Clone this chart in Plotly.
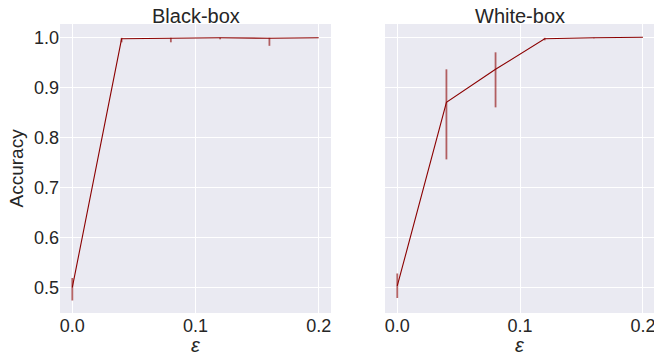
import plotly.graph_objects as go
from plotly.subplots import make_subplots

eps = [0.0, 0.04, 0.08, 0.12, 0.16, 0.2]

bb_mean = [0.500, 0.997, 0.998, 0.999, 0.998, 0.999]
bb_upper = [0.519, 0.999, 0.999, 0.999, 0.999, 0.999]
bb_lower = [0.474, 0.990, 0.990, 0.996, 0.983, 0.999]

wb_mean = [0.503, 0.870, 0.936, 0.997, 0.999, 1.000]
wb_upper = [0.528, 0.936, 0.970, 0.999, 0.999, 1.000]
wb_lower = [0.479, 0.756, 0.860, 0.994, 0.998, 1.000]

titles = ["Black-box", "White-box"]
xticks = [0.0, 0.1, 0.2]
xticklabels = ["0.0", "0.1", "0.2"]
yticks = [0.5, 0.6, 0.7, 0.8, 0.9, 1.0]
yticklabels = ["0.5", "0.6", "0.7", "0.8", "0.9", "1.0"]

FONT = "Liberation Sans, Arial, sans-serif"
TXT = "#262626"
LINE = "#8B0000"
ERR = "rgba(139,0,0,0.6)"

W, H = 654, 360
ML, MR, MT = 60, 0, 24
MB = H - 313
PW = W - ML - MR

fig = make_subplots(rows=1, cols=2, shared_yaxes=True, horizontal_spacing=0.0)

for i, (m, up, lo) in enumerate([(bb_mean, bb_upper, bb_lower), (wb_mean, wb_upper, wb_lower)]):
    col = i + 1
    fig.add_trace(go.Scatter(
        x=eps, y=m, mode="markers", marker=dict(size=0.1, opacity=0),
        error_y=dict(type="data", symmetric=False,
                     array=[u - v for u, v in zip(up, m)],
                     arrayminus=[v - l for v, l in zip(m, lo)],
                     color=ERR, thickness=1.8, width=0),
        showlegend=False, hoverinfo="skip"), row=1, col=col)
    fig.add_trace(go.Scatter(
        x=eps, y=m, mode="lines", line=dict(color=LINE, width=1.1),
        showlegend=False), row=1, col=col)

axis_common = dict(showline=False, zeroline=False, gridcolor="white", gridwidth=1.3,
                   ticks="", automargin=False,
                   tickfont=dict(size=18, color=TXT, family=FONT))

left_dom = [0, (331 - ML) / PW]
right_dom = [(385 - ML) / PW, 1.0]

fig.update_xaxes(**axis_common, tickvals=xticks, ticktext=xticklabels, ticklabeloverflow="allow")
fig.update_xaxes(range=[-0.01, 0.21], domain=left_dom, row=1, col=1)
fig.update_xaxes(range=[-0.01, 0.209], domain=right_dom, row=1, col=2)
fig.update_yaxes(**axis_common, tickvals=yticks, ticktext=yticklabels, range=[0.449, 1.0266])
fig.update_yaxes(showticklabels=False, row=1, col=2)

centers = [(sum(left_dom) / 2), (sum(right_dom) / 2)]
for i, t in enumerate(titles):
    fig.add_annotation(text=t, x=centers[i], y=1.0, xref="paper", yref="paper",
                       xanchor="center", yanchor="middle", showarrow=False, yshift=8,
                       font=dict(size=20, color=TXT, family=FONT))
    fig.add_annotation(text="<i>ε</i>", x=centers[i], y=0.0, xref="paper", yref="paper",
                       xanchor="center", yanchor="middle", showarrow=False, yshift=-32,
                       font=dict(size=20, color=TXT, family=FONT))

fig.add_annotation(text="Accuracy", x=(16 - ML) / PW, y=0.5, xref="paper", yref="paper",
                   xanchor="center", yanchor="middle", showarrow=False, textangle=-90,
                   font=dict(size=19, color=TXT, family=FONT))

fig.update_layout(
    width=W, height=H,
    margin=dict(l=ML, r=MR, t=MT, b=MB),
    paper_bgcolor="white", plot_bgcolor="#EAEAF2",
    font=dict(family=FONT, color=TXT),
)

fig.write_html("out.html",
               config={"displayModeBar": False},
               post_script="document.body.style.margin='0';"
                           "document.documentElement.style.overflow='hidden';")
